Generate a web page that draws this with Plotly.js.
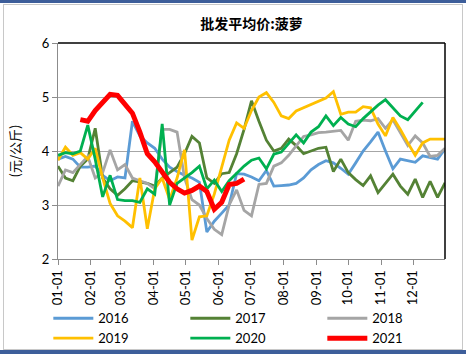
<!DOCTYPE html>
<html>
<head>
<meta charset="utf-8">
<script src="https://cdn.plot.ly/plotly-3.0.1.min.js"></script>
<style>
html,body{margin:0;padding:0;background:#fff;}
#wrap{position:relative;width:466px;height:354px;overflow:hidden;}
#chart{position:absolute;left:0;top:0;width:466px;height:354px;}
.fr{position:absolute;pointer-events:none;}
</style>
</head>
<body>
<div id="wrap">
<div id="chart"></div>
<div class="fr" style="left:0;top:0;width:466px;height:3px;background:#3D5E9A;"></div>
<div class="fr" style="left:3px;top:4px;width:458px;height:344px;border:1px solid #C8C8C8;"></div>
<div class="fr" style="left:0;top:350px;width:466px;height:4px;background:#3D5E9A;"></div>
</div>
<script>
// weekly dates (common calendar year used for month-day axis)
const weeks = ["2021-01-01","2021-01-08","2021-01-15","2021-01-22","2021-01-29",
"2021-02-05","2021-02-12","2021-02-19","2021-02-26",
"2021-03-05","2021-03-12","2021-03-19","2021-03-26",
"2021-04-02","2021-04-09","2021-04-16","2021-04-23","2021-04-30",
"2021-05-07","2021-05-14","2021-05-21","2021-05-28",
"2021-06-04","2021-06-11","2021-06-18","2021-06-25",
"2021-07-02","2021-07-09","2021-07-16","2021-07-23","2021-07-30",
"2021-08-06","2021-08-13","2021-08-20","2021-08-27",
"2021-09-03","2021-09-10","2021-09-17","2021-09-24",
"2021-10-01","2021-10-08","2021-10-15","2021-10-22","2021-10-29",
"2021-11-05","2021-11-12","2021-11-19","2021-11-26",
"2021-12-03","2021-12-10","2021-12-17","2021-12-24","2021-12-31"];

const seriesNames = ["2016","2017","2018","2019","2020","2021"];

const y2016 = [3.85,3.9,3.85,3.7,3.7,3.72,3.55,3.45,3.52,3.5,
4.55,4.28,4.15,4.05,3.85,3.7,3.62,3.55,3.5,3.42,
2.5,2.7,2.85,3.0,3.58,3.57,3.52,3.45,3.64,3.35,
3.36,3.37,3.4,3.5,3.65,3.75,3.82,3.78,3.68,3.57,
3.78,4.0,4.17,4.35,4.0,3.67,3.85,3.82,3.79,3.91,
3.88,3.85,4.04];

const y2017 = [3.72,3.5,3.45,3.72,3.85,4.42,3.5,3.3,3.18,3.3,
3.45,3.43,3.4,3.35,3.5,3.6,3.7,3.95,4.27,4.15,
3.5,3.4,3.58,3.6,3.95,4.4,4.93,4.55,4.2,4.0,
4.05,4.22,4.1,3.95,4.0,4.05,4.07,3.62,3.85,3.6,
3.47,3.36,3.54,3.23,3.4,3.57,3.35,3.2,3.48,3.14,
3.44,3.14,3.41];

const y2018 = [3.35,3.65,3.6,3.75,3.9,3.5,3.6,4.02,3.65,3.75,
3.5,3.45,3.4,3.3,4.4,4.4,4.35,3.5,3.1,3.0,
2.75,2.55,2.45,3.0,3.28,2.9,2.8,3.38,3.4,3.72,
3.78,3.92,4.1,4.27,4.3,4.34,4.35,4.36,4.38,4.2,
4.55,4.57,4.56,4.6,4.42,4.58,4.35,4.1,4.28,4.15,
3.9,3.92,4.05];

const y2019 = [3.83,4.07,3.92,3.97,3.85,4.05,3.5,3.03,2.8,2.7,
2.58,3.5,2.56,3.3,3.5,3.1,3.5,4.02,2.35,2.78,
2.8,3.2,3.7,4.2,4.52,4.42,4.75,5.0,5.08,4.9,
4.65,4.6,4.74,4.8,4.86,4.92,4.98,5.1,4.68,4.72,
4.72,4.82,4.8,4.5,4.28,4.62,4.4,4.15,3.92,4.15,
4.22,4.22,4.22];

const y2020 = [3.92,3.97,3.95,4.0,4.48,3.85,3.15,3.55,3.1,3.08,
3.08,3.05,3.3,3.2,4.5,3.0,3.4,3.5,3.6,3.72,
3.3,3.46,3.25,3.45,3.58,3.72,3.83,3.87,3.67,3.94,
3.98,4.15,4.3,4.15,4.35,4.45,4.65,4.47,4.62,4.5,
4.45,4.6,4.72,4.85,4.95,4.8,4.65,4.58,4.75,4.9];

const y2021 = [null,null,null,4.58,4.55,4.75,4.9,5.05,5.03,4.88,
4.7,4.35,3.95,3.8,3.6,3.42,3.3,3.22,3.27,3.35,
3.25,2.92,3.05,3.38,3.4,3.48];

const seriesValues = [y2016,y2017,y2018,y2019,y2020,y2021];
const colors = ["#5B9BD5","#548235","#A5A5A5","#FFC000","#00B050","#FF0000"];
const widths = [2.8,2.8,2.8,2.8,2.8,5];

const traces = seriesNames.map((n,k)=>({
  type:"scatter", mode:"lines", name:n,
  x: weeks.slice(0, seriesValues[k].length), y: seriesValues[k],
  line:{color:colors[k], width:widths[k]},
  connectgaps:false, hoverinfo:"skip"
}));

const font = "Lato, 'Liberation Sans', sans-serif";
const layout = {
  width:466, height:354,
  margin:{l:58, r:21, t:43, b:95, autoexpand:false},
  paper_bgcolor:"rgba(0,0,0,0)", plot_bgcolor:"#fff",
  title:{text:"<b>批发平均价:菠萝</b>", font:{family:"'Noto Sans CJK SC', sans-serif", size:14, color:"#000"},
    x:0.5, xref:"paper", xanchor:"center", y:0.945, yref:"container"},
  font:{family:font, size:13, color:"#000"},
  xaxis:{type:"date", range:["2021-01-01","2021-12-31"], tick0:"2021-01-01", dtick:"M1",
    tickformat:"%m-%d", tickangle:-90, ticks:"outside", ticklen:5, tickcolor:"#8C8C8C",
    showline:true, linecolor:"#8C8C8C", linewidth:1, showgrid:false, zeroline:false,
    tickfont:{family:font, size:13, color:"#000"}, fixedrange:true, automargin:false},
  yaxis:{range:[2,6], dtick:1, ticks:"outside", ticklen:5, tickcolor:"#8C8C8C",
    showline:true, linecolor:"#8C8C8C", linewidth:1, showgrid:true, gridcolor:"#A6A6A6", gridwidth:1,
    zeroline:false, tickfont:{family:font, size:13, color:"#000"}, automargin:false,
    title:{text:"(元/公斤)", font:{family:"'Noto Sans CJK SC', sans-serif", size:13, color:"#000"}, standoff:18},
    fixedrange:true},
  shapes:[
    {type:"line", xref:"paper", yref:"paper", x0:0, x1:1, y0:1, y1:1, line:{color:"#000", width:1.5}},
    {type:"line", xref:"paper", yref:"paper", x0:1, x1:1, y0:0, y1:1, line:{color:"#000", width:1.5}}
  ],
  legend:{orientation:"h", x:-0.025, xanchor:"left", y:-0.205, yanchor:"top",
    entrywidth:82, entrywidthmode:"pixels", itemwidth:40, tracegroupgap:0,
    font:{family:font, size:13, color:"#000"}, bgcolor:"rgba(0,0,0,0)"},
  showlegend:true
};

Plotly.newPlot("chart", traces, layout, {staticPlot:true, displayModeBar:false});
</script>
</body>
</html>
